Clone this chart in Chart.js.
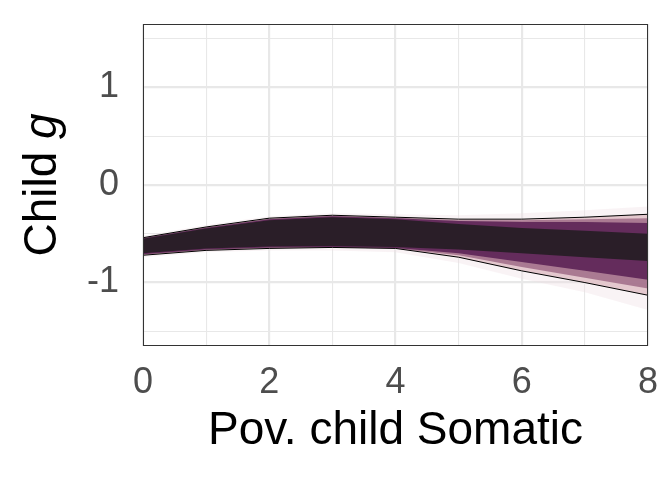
<!DOCTYPE html>
<html>
<head>
<meta charset="utf-8">
<script src="https://cdn.jsdelivr.net/npm/chart.js@4.4.0/dist/chart.umd.min.js"></script>
<style>
  body { margin: 0; background: #fff; }
  canvas { display: block; }
</style>
</head>
<body>
<canvas id="chart" width="672" height="480"></canvas>
<script>
// data
var xValues = [0, 1, 2, 3, 4, 5, 6, 7, 8];
var upperLine = [-0.54, -0.43, -0.34, -0.31, -0.33, -0.35, -0.35, -0.33, -0.30];
var lowerLine = [-0.72, -0.67, -0.65, -0.64, -0.65, -0.74, -0.88, -1.00, -1.13];
var haloHi = [-0.52, -0.41, -0.32, -0.29, -0.30, -0.31, -0.29, -0.26, -0.22];
var haloLo = [-0.74, -0.69, -0.67, -0.67, -0.69, -0.80, -0.96, -1.10, -1.28];
var mauveHi = [-0.542, -0.432, -0.345, -0.315, -0.335, -0.36, -0.36, -0.35, -0.34];
var mauveLo = [-0.715, -0.665, -0.645, -0.64, -0.65, -0.72, -0.84, -0.95, -1.06];
var purpleHi = [-0.545, -0.437, -0.35, -0.32, -0.34, -0.37, -0.38, -0.38, -0.39];
var purpleLo = [-0.71, -0.66, -0.64, -0.635, -0.645, -0.70, -0.79, -0.88, -0.97];
var coreHi = [-0.55, -0.445, -0.36, -0.33, -0.35, -0.40, -0.44, -0.47, -0.50];
var coreLo = [-0.70, -0.65, -0.63, -0.625, -0.635, -0.66, -0.70, -0.74, -0.78];
var yTicks = [-1.5, -1, -0.5, 0, 0.5, 1, 1.5];
var xTicks = [0, 1, 2, 3, 4, 5, 6, 7, 8];

var FONT = '"Liberation Sans", Arial, sans-serif';

function pts(arr) {
    return arr.map(function (v, i) { return { x: xValues[i], y: v }; });
}

function band(hi, lo, color, order) {
    return [
        { data: pts(hi), fill: '+1', backgroundColor: color, borderWidth: 0, pointRadius: 0, order: order },
        { data: pts(lo), fill: false, borderWidth: 0, pointRadius: 0, order: order }
    ];
}

var datasets = []
    .concat(band(haloHi, haloLo, 'rgba(238, 222, 226, 0.35)', 10))
    .concat(band(upperLine, lowerLine, 'rgba(226, 196, 202, 0.9)', 8))
    .concat(band(mauveHi, mauveLo, 'rgba(160, 108, 136, 0.85)', 6))
    .concat(band(purpleHi, purpleLo, 'rgba(92, 36, 86, 0.9)', 4))
    .concat(band(coreHi, coreLo, 'rgba(42, 30, 40, 1)', 2));

datasets.push({ data: pts(upperLine), borderColor: '#000', borderWidth: 1, pointRadius: 0, fill: false, order: 0 });
datasets.push({ data: pts(lowerLine), borderColor: '#000', borderWidth: 1, pointRadius: 0, fill: false, order: 0 });

// frame + y title with italic g
var extras = {
    id: 'extras',
    afterDraw: function (chart) {
        var c = chart.ctx, a = chart.chartArea;
        c.save();
        c.strokeStyle = '#333333';
        c.lineWidth = 1;
        c.strokeRect(a.left + 0.5, a.top + 0.5, a.right - a.left - 1, a.bottom - a.top - 1);

        c.fillStyle = '#000';
        c.textBaseline = 'alphabetic';
        c.font = '46px ' + FONT;
        var w1 = c.measureText('Child ').width;
        c.font = 'italic 46px ' + FONT;
        var w2 = c.measureText('g').width;
        c.translate(56, 185);
        c.rotate(-Math.PI / 2);
        var start = -(w1 + w2) / 2;
        c.font = '46px ' + FONT;
        c.fillText('Child ', start, 0);
        c.font = 'italic 46px ' + FONT;
        c.fillText('g', start + w1, 0);
        c.restore();
    }
};

new Chart(document.getElementById('chart'), {
    type: 'line',
    data: { datasets: datasets },
    options: {
        responsive: false,
        animation: false,
        layout: { padding: { top: 24, right: 24, left: 0, bottom: 0 } },
        plugins: { legend: { display: false }, tooltip: { enabled: false } },
        scales: {
            x: {
                type: 'linear',
                min: 0,
                max: 8,
                afterBuildTicks: function (s) { s.ticks = xTicks.map(function (v) { return { value: v }; }); },
                afterFit: function (s) { s.height = 134; s.paddingLeft = 0; s.paddingRight = 0; },
                ticks: {
                    autoSkip: false,
                    maxRotation: 0,
                    padding: 15,
                    color: '#4d4d4d',
                    font: { family: FONT, size: 36 },
                    callback: function (v) { return v % 2 === 0 ? String(v) : ''; }
                },
                grid: {
                    drawTicks: false,
                    color: '#e8e8e8',
                    lineWidth: function (ctx) { return ctx.tick && ctx.tick.value % 2 === 0 ? 2.2 : 1.1; }
                },
                border: { display: false },
                title: {
                    display: true,
                    text: 'Pov. child Somatic',
                    color: '#000',
                    font: { family: FONT, size: 46, lineHeight: 1 },
                    padding: { top: 0, bottom: 26 }
                }
            },
            y: {
                min: -1.65,
                max: 1.65,
                afterBuildTicks: function (s) { s.ticks = yTicks.map(function (v) { return { value: v }; }); },
                afterFit: function (s) { s.width = 143; s.paddingTop = 0; s.paddingBottom = 0; },
                ticks: {
                    padding: 24,
                    color: '#4d4d4d',
                    font: { family: FONT, size: 36 },
                    callback: function (v) { return Number.isInteger(v) ? String(v) : ''; }
                },
                grid: {
                    drawTicks: false,
                    color: '#e8e8e8',
                    lineWidth: function (ctx) { return ctx.tick && Number.isInteger(ctx.tick.value) ? 2.2 : 1.1; }
                },
                border: { display: false }
            }
        }
    },
    plugins: [extras]
});
</script>
</body>
</html>
